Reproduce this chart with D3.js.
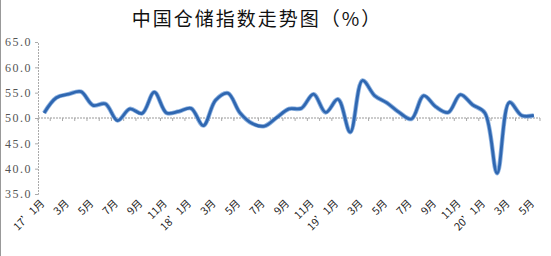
<!DOCTYPE html>
<html>
<head>
<meta charset="utf-8">
<script src="https://cdn.jsdelivr.net/npm/d3@7"></script>
<style>
  body { margin: 0; background: #fff; }
  svg { display: block; }
</style>
</head>
<body>
<svg id="chart" width="551" height="256"></svg>
<script>
// 中国仓储指数 2017.1 - 2020.5
const categories = [
  '17’1月', '2月', '3月', '4月', '5月', '6月', '7月', '8月', '9月', '10月', '11月', '12月',
  '18’1月', '2月', '3月', '4月', '5月', '6月', '7月', '8月', '9月', '10月', '11月', '12月',
  '19’1月', '2月', '3月', '4月', '5月', '6月', '7月', '8月', '9月', '10月', '11月', '12月',
  '20’1月', '2月', '3月', '4月', '5月',
];
const values = [
  51.0, 54.0, 54.7, 55.2, 52.5, 52.8, 49.5, 51.8, 50.9, 55.1, 51.0, 51.3,
  51.9, 48.5, 53.5, 54.9, 51.0, 48.9, 48.4, 50.1, 51.8, 51.9, 54.7, 51.1,
  53.7, 47.2, 57.4, 54.4, 53.0, 51.1, 49.8, 54.4, 52.2, 51.1, 54.6, 52.6,
  51.0, 39.1, 53.1, 50.5, 50.5,
];
const yTicks = [35, 40, 45, 50, 55, 60, 65];
const title = '中国仓储指数走势图（%）';

const svg = d3.select('#chart');
const margin = { top: 42, right: 11, bottom: 62, left: 38 };
const width = +svg.attr('width') - margin.left - margin.right;
const height = +svg.attr('height') - margin.top - margin.bottom;

// left border of the picture
svg.append('line')
  .attr('x1', 0.5).attr('x2', 0.5)
  .attr('y1', 0).attr('y2', 256)
  .attr('stroke', '#999');

svg.append('text')
  .attr('x', 257)
  .attr('y', 26)
  .attr('text-anchor', 'middle')
  .attr('font-family', '"Noto Sans CJK SC", sans-serif')
  .attr('font-size', 19)
  .attr('letter-spacing', 2)
  .attr('fill', '#111')
  .text(title);

const g = svg.append('g').attr('transform', `translate(${margin.left},${margin.top})`);

const x = d3.scaleBand()
  .domain(d3.range(categories.length))
  .range([0, width]);

const y = d3.scaleLinear()
  .domain([35, 65])
  .range([height, 0]);

const cx = i => x(i) + x.bandwidth() / 2;

// y axis
const yAxis = g.append('g')
  .call(d3.axisLeft(y).tickValues(yTicks).tickSize(3).tickFormat(d3.format('.1f')));
yAxis.select('.domain')
  .attr('stroke', '#aaa')
  .attr('stroke-dasharray', '2,1');
yAxis.selectAll('.tick line').attr('stroke', '#aaa');
yAxis.selectAll('.tick text')
  .attr('x', -6)
  .attr('fill', '#555')
  .attr('font-family', '"Liberation Serif", serif')
  .attr('font-size', 12)
  .attr('letter-spacing', 1.5);

// category axis crossing at 50
const xAxis = g.append('g')
  .attr('transform', `translate(0,${y(50)})`);
xAxis.append('line')
  .attr('x1', 0).attr('x2', width)
  .attr('stroke', '#999')
  .attr('stroke-dasharray', '2,1');
xAxis.selectAll('.tk')
  .data(d3.range(categories.length + 1))
  .enter().append('line')
  .attr('class', 'tk')
  .attr('x1', d => d * x.step()).attr('x2', d => d * x.step())
  .attr('y1', 0).attr('y2', 3)
  .attr('stroke', '#aaa');

// labels at the bottom
g.selectAll('.xlabel')
  .data(categories.map((c, i) => ({ c, i })).filter(d => d.i % 2 === 0))
  .enter().append('text')
  .attr('class', 'xlabel')
  .attr('transform', d => `translate(${cx(d.i) + 1},${height + 10}) rotate(-45)`)
  .attr('text-anchor', 'end')
  .attr('font-family', '"Noto Sans CJK SC", sans-serif')
  .attr('font-size', 10.5)
  .attr('fill', '#222')
  .text(d => d.c);

const line = d3.line()
  .x((d, i) => cx(i))
  .y(d => y(d))
  .curve(d3.curveCatmullRom.alpha(0.5));

g.append('path')
  .datum(values)
  .attr('fill', 'none')
  .attr('stroke', '#8fb3e0')
  .attr('stroke-width', 4.5)
  .attr('stroke-linejoin', 'round')
  .attr('d', line);

g.append('path')
  .datum(values)
  .attr('fill', 'none')
  .attr('stroke', '#2f67b1')
  .attr('stroke-width', 2.8)
  .attr('stroke-linejoin', 'round')
  .attr('d', line);
</script>
</body>
</html>
